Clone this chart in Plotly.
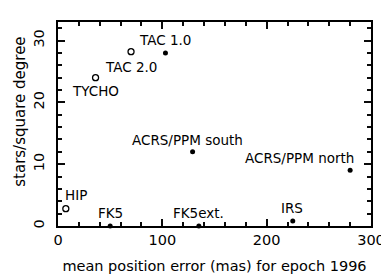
import plotly.graph_objects as go

# Data
catalogs = ["HIP", "FK5", "FK5ext.", "TYCHO", "TAC 2.0", "TAC 1.0",
            "ACRS/PPM south", "ACRS/PPM north", "IRS"]
pos_error = [7.5, 50, 135, 36, 70, 103, 129, 280, 225]
density = [2.8, 0, 0, 24, 28.2, 28, 12, 9, 0.8]
is_open = [True, False, False, True, True, False, False, False, False]

x_tick_step = 100
y_tick_step = 10

# label offsets in pixels (style)
label_dx = [10, 0, 0, 0, 0, 0, -5, -51, -1]
label_dy = [14, 13, 13, -13, -15, 13, 12, 12, 13]

TFONT = "DejaVu Sans, sans-serif"
TICKC = "rgb(10,10,10)"

fig = go.Figure()

ox = [x for x, o in zip(pos_error, is_open) if o]
oy = [y for y, o in zip(density, is_open) if o]
fx = [x for x, o in zip(pos_error, is_open) if not o]
fy = [y for y, o in zip(density, is_open) if not o]

fig.add_trace(go.Scatter(x=fx, y=fy, mode="markers", cliponaxis=False,
                         marker=dict(size=5, color="black"), showlegend=False))
fig.add_trace(go.Scatter(x=ox, y=oy, mode="markers", cliponaxis=False,
                         marker=dict(size=6, color="white",
                                     line=dict(color="black", width=1.3)),
                         showlegend=False))

for name, x, y, dx, dy in zip(catalogs, pos_error, density, label_dx, label_dy):
    fig.add_annotation(x=x, y=y, xref="x", yref="y", text=name, showarrow=False,
                       xanchor="center", yanchor="middle", xshift=dx, yshift=dy,
                       font=dict(family=TFONT, size=13.5, color="black"))

fig.add_annotation(x=0, y=0.56, xref="x domain", yref="y domain",
                   text="stars/square degree", textangle=-90, showarrow=False,
                   xanchor="center", yanchor="middle", xshift=-38,
                   font=dict(family=TFONT, size=15, color="black"))

fig.update_xaxes(range=[0, 300], tick0=0, dtick=x_tick_step,
                 ticks="inside", ticklen=7, tickwidth=2, tickcolor=TICKC,
                 showline=True, linecolor="black", linewidth=1.6, mirror="allticks",
                 minor=dict(ticks="inside", ticklen=4, tickcolor=TICKC, dtick=20),
                 showgrid=False, zeroline=False,
                 tickfont=dict(family=TFONT, size=14.5, color="black"),
                 title=dict(text="mean position error (mas) for epoch 1996",
                            font=dict(family=TFONT, size=14.5, color="black"),
                            standoff=14))
fig.update_yaxes(range=[0, 33], tick0=0, dtick=y_tick_step, tickangle=-90,
                 ticks="inside", ticklen=7, tickwidth=2, tickcolor=TICKC,
                 showline=True, linecolor="black", linewidth=1.6, mirror="allticks",
                 minor=dict(ticks="inside", ticklen=4, tickcolor=TICKC, dtick=2),
                 showgrid=False, zeroline=False, ticklabelstandoff=6,
                 tickfont=dict(family=TFONT, size=14.5, color="black"))

fig.update_layout(width=389, height=276,
                  margin=dict(l=50, r=13, t=13, b=52),
                  plot_bgcolor="white")

fig.write_html("out.html")
